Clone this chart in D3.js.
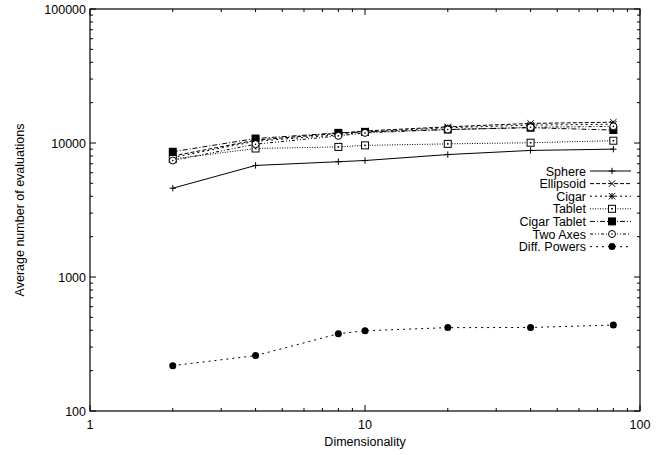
<!DOCTYPE html>
<html lang="en">
<head>
  <meta charset="UTF-8">
  <title>Average number of evaluations vs dimensionality</title>
  <script src="https://d3js.org/d3.v7.min.js"></script>
  <style>
    body { margin: 0; background: #fff; }
    text { font-family: "Liberation Sans", Arial, sans-serif; font-size: 12.5px; fill: #000; }
    .frame { fill: none; stroke: #000; stroke-width: 1.2px; }
    .tick { stroke: #000; stroke-width: 1px; }
  </style>
</head>
<body>
  <svg width="670" height="455"></svg>
  <script>
    // Data
    const dims = [2, 4, 8, 10, 20, 40, 80];
    const sphere      = [4600, 6800, 7250, 7400, 8200, 8800, 9000];
    const ellipsoid   = [8000, 10500, 11800, 12300, 13200, 14000, 14300];
    const cigar       = [7800, 10300, 11500, 12100, 13000, 13600, 13800];
    const tablet      = [7600, 9100, 9350, 9600, 9850, 10050, 10400];
    const cigarTablet = [8600, 10800, 11900, 12100, 12600, 13000, 12500];
    const twoAxes     = [7400, 9800, 11300, 11900, 12600, 13100, 13300];
    const diffPowers  = [218, 259, 377, 397, 419, 420, 438];

    const xTicks = [1, 10, 100];
    const yTicks = [100, 1000, 10000, 100000];

    const series = [
      { name: "Sphere",       values: sphere,      dash: null,          mark: "plus" },
      { name: "Ellipsoid",    values: ellipsoid,   dash: "4,2",         mark: "cross" },
      { name: "Cigar",        values: cigar,       dash: "2,3",         mark: "star" },
      { name: "Tablet",       values: tablet,      dash: "1,1.5",       mark: "square" },
      { name: "Cigar Tablet", values: cigarTablet, dash: "5,2,1,2",     mark: "fsquare" },
      { name: "Two Axes",     values: twoAxes,     dash: "3,2,1,2,1,2", mark: "circle" },
      { name: "Diff. Powers", values: diffPowers,  dash: "2,4",         mark: "fcircle" }
    ];

    const svg = d3.select("svg");
    const pLeft = 90, pRight = 640, pTop = 9, pBottom = 411;

    const x = d3.scaleLog().domain([1, 100]).range([pLeft, pRight]);
    const y = d3.scaleLog().domain([100, 100000]).range([pBottom, pTop]);

    // ticks, inward on all four sides
    const g = svg.append("g");
    const minorX = [], minorY = [];
    for (let d = 1; d < 100; d *= 10) for (let k = 2; k <= 9; k++) minorX.push(d * k);
    for (let d = 100; d < 100000; d *= 10) for (let k = 2; k <= 9; k++) minorY.push(d * k);

    function xt(v, len) {
      g.append("line").attr("class", "tick").attr("x1", x(v)).attr("x2", x(v)).attr("y1", pBottom).attr("y2", pBottom - len);
      g.append("line").attr("class", "tick").attr("x1", x(v)).attr("x2", x(v)).attr("y1", pTop).attr("y2", pTop + len);
    }
    function yt(v, len) {
      g.append("line").attr("class", "tick").attr("y1", y(v)).attr("y2", y(v)).attr("x1", pLeft).attr("x2", pLeft + len);
      g.append("line").attr("class", "tick").attr("y1", y(v)).attr("y2", y(v)).attr("x1", pRight).attr("x2", pRight - len);
    }
    xTicks.forEach(v => xt(v, 6));
    minorX.forEach(v => xt(v, 3));
    yTicks.forEach(v => yt(v, 6));
    minorY.forEach(v => yt(v, 3));

    g.selectAll(".xl").data(xTicks).enter().append("text")
      .attr("x", d => x(d)).attr("y", pBottom + 18)
      .attr("text-anchor", "middle").text(d => d);
    g.selectAll(".yl").data(yTicks).enter().append("text")
      .attr("x", pLeft - 4).attr("y", d => y(d) + 4.5)
      .attr("text-anchor", "end").text(d => d);

    svg.append("rect").attr("class", "frame")
      .attr("x", pLeft).attr("y", pTop).attr("width", pRight - pLeft).attr("height", pBottom - pTop);

    svg.append("text").attr("x", (pLeft + pRight) / 2).attr("y", 446)
      .attr("text-anchor", "middle").text("Dimensionality");
    svg.append("text").attr("transform", `translate(24,${(pTop + pBottom) / 2}) rotate(-90)`)
      .attr("text-anchor", "middle").text("Average number of evaluations");

    // markers
    function marker(sel, type, cx, cy) {
      const s = 3.2;
      if (type === "plus") {
        sel.append("path").attr("d", `M${cx - s},${cy}H${cx + s}M${cx},${cy - s}V${cy + s}`)
          .attr("stroke", "#000").attr("stroke-width", 1);
      } else if (type === "cross") {
        sel.append("path").attr("d", `M${cx - s},${cy - s}L${cx + s},${cy + s}M${cx - s},${cy + s}L${cx + s},${cy - s}`)
          .attr("stroke", "#000").attr("stroke-width", 1);
      } else if (type === "star") {
        sel.append("path").attr("d", `M${cx - s},${cy}H${cx + s}M${cx},${cy - s}V${cy + s}M${cx - s},${cy - s}L${cx + s},${cy + s}M${cx - s},${cy + s}L${cx + s},${cy - s}`)
          .attr("stroke", "#000").attr("stroke-width", 1);
      } else if (type === "square") {
        sel.append("rect").attr("x", cx - 3.5).attr("y", cy - 3.5).attr("width", 7).attr("height", 7)
          .attr("fill", "#fff").attr("stroke", "#000").attr("stroke-width", 1);
        sel.append("rect").attr("x", cx - 0.8).attr("y", cy - 0.8).attr("width", 1.6).attr("height", 1.6).attr("fill", "#000");
      } else if (type === "fsquare") {
        sel.append("rect").attr("x", cx - 4).attr("y", cy - 4).attr("width", 8).attr("height", 8).attr("fill", "#000");
      } else if (type === "circle") {
        sel.append("circle").attr("cx", cx).attr("cy", cy).attr("r", 3.5)
          .attr("fill", "#fff").attr("stroke", "#000").attr("stroke-width", 1);
        sel.append("circle").attr("cx", cx).attr("cy", cy).attr("r", 0.8).attr("fill", "#000");
      } else if (type === "fcircle") {
        sel.append("circle").attr("cx", cx).attr("cy", cy).attr("r", 3.5).attr("fill", "#000");
      }
    }

    const line = d3.line().x(d => x(d[0])).y(d => y(d[1]));
    const plot = svg.append("g");
    series.forEach(s => {
      const pts = dims.map((d, i) => [d, s.values[i]]);
      plot.append("path").attr("d", line(pts)).attr("fill", "none")
        .attr("stroke", "#000").attr("stroke-width", 1)
        .attr("stroke-dasharray", s.dash);
      const mg = plot.append("g");
      pts.forEach(p => marker(mg, s.mark, x(p[0]), y(p[1])));
    });

    // legend
    const lg = svg.append("g");
    series.forEach((s, i) => {
      const ly = 171 + i * 12.6;
      lg.append("text").attr("x", 586).attr("y", ly + 4.5).attr("text-anchor", "end").text(s.name);
      lg.append("line").attr("x1", 590).attr("x2", 631).attr("y1", ly).attr("y2", ly)
        .attr("stroke", "#000").attr("stroke-width", 1).attr("stroke-dasharray", s.dash);
      marker(lg, s.mark, 612, ly);
    });
  </script>
</body>
</html>
